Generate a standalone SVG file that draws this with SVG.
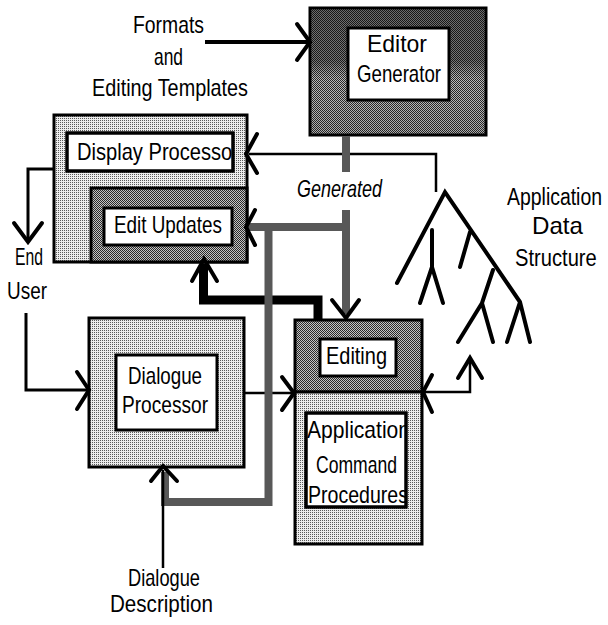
<svg xmlns="http://www.w3.org/2000/svg" width="608" height="625" viewBox="0 0 608 625">
<style>
text{font-family:"Liberation Sans",Arial,sans-serif;font-size:24px;fill:#000}
.box{stroke:#000;stroke-width:3}
.in{fill:#fff;stroke:#000;stroke-width:3}
.ln{fill:none;stroke:#000;stroke-linecap:butt;stroke-linejoin:miter}
.ah{fill:none;stroke:#000;stroke-width:4;stroke-linecap:round;stroke-linejoin:miter}
.band{fill:none;stroke:#585858;stroke-width:8;stroke-linejoin:miter}
.tree{fill:none;stroke:#000;stroke-width:4;stroke-linecap:round;stroke-linejoin:miter}
</style>
<defs>
<pattern id="lt" width="2" height="2" patternUnits="userSpaceOnUse"><rect width="2" height="2" fill="#ededed"/><rect width="1" height="1" fill="#5a5a5a"/></pattern>
<pattern id="dk" width="2" height="2" patternUnits="userSpaceOnUse"><rect width="2" height="2" fill="#c4c4c4"/><rect width="1" height="1" fill="#2a2a2a"/><rect x="1" y="1" width="1" height="1" fill="#2a2a2a"/></pattern>
<linearGradient id="eg" x1="0" y1="0" x2="0" y2="1">
<stop offset="0" stop-color="#000" stop-opacity="0.45"/>
<stop offset="0.42" stop-color="#000" stop-opacity="0.4"/>
<stop offset="0.55" stop-color="#000" stop-opacity="0.05"/>
<stop offset="1" stop-color="#000" stop-opacity="0.12"/>
</linearGradient>
<clipPath id="cDP"><rect x="67" y="133" width="166" height="38"/></clipPath>
<clipPath id="cAP"><rect x="306" y="413" width="100" height="94"/></clipPath>
</defs>

<g id="formats-templates">
<text x="133" y="33" textLength="71" lengthAdjust="spacingAndGlyphs">Formats</text>
<text x="154" y="65" textLength="29" lengthAdjust="spacingAndGlyphs">and</text>
<text x="92" y="96" textLength="156" lengthAdjust="spacingAndGlyphs">Editing Templates</text>
</g>

<g id="editor-generator">
<rect x="310" y="8" width="176" height="127" fill="url(#dk)" class="box"/>
<rect x="311.5" y="9.5" width="173" height="124" fill="url(#eg)"/>
<rect x="348" y="28" width="101" height="72" class="in"/>
<text x="367" y="52" textLength="60" lengthAdjust="spacingAndGlyphs">Editor</text>
<text x="357" y="82" textLength="84" lengthAdjust="spacingAndGlyphs">Generator</text>
</g>

<g id="display-processor">
<rect x="54" y="115" width="193" height="147" fill="url(#lt)" class="box"/>
<rect x="67" y="133" width="166" height="38" class="in"/>
<text x="77" y="160" textLength="162" lengthAdjust="spacingAndGlyphs" clip-path="url(#cDP)">Display Processor</text>
<rect x="67" y="133" width="166" height="38" fill="none" stroke="#000" stroke-width="3"/>
</g>

<g id="edit-updates">
<rect x="91" y="188" width="156" height="74" fill="url(#dk)" class="box"/>
<rect x="104" y="208" width="128" height="37" class="in"/>
<text x="114" y="233" textLength="108" lengthAdjust="spacingAndGlyphs">Edit Updates</text>
</g>

<g id="end-user">
<text x="15" y="265" textLength="28" lengthAdjust="spacingAndGlyphs">End</text>
<text x="7" y="299" textLength="40" lengthAdjust="spacingAndGlyphs">User</text>
</g>

<g id="dialogue-processor">
<rect x="89" y="318" width="155" height="149" fill="url(#lt)" class="box"/>
<rect x="116" y="355" width="101" height="75" class="in"/>
<text x="128" y="384" textLength="74" lengthAdjust="spacingAndGlyphs">Dialogue</text>
<text x="122" y="413" textLength="86" lengthAdjust="spacingAndGlyphs">Processor</text>
</g>

<g id="editing">
<rect x="295" y="320" width="127" height="72" fill="url(#dk)" class="box"/>
<rect x="320" y="339" width="76" height="37" class="in"/>
<text x="326" y="364" textLength="61" lengthAdjust="spacingAndGlyphs">Editing</text>
</g>

<g id="application-command-procedures">
<rect x="295" y="392" width="127" height="152" fill="url(#lt)" class="box"/>
<rect x="306" y="413" width="100" height="94" class="in"/>
<g clip-path="url(#cAP)">
<text x="307" y="438" textLength="103" lengthAdjust="spacingAndGlyphs">Application</text>
<text x="316" y="473" textLength="81" lengthAdjust="spacingAndGlyphs">Command</text>
<text x="308" y="503" textLength="100" lengthAdjust="spacingAndGlyphs">Procedures</text>
</g>
<rect x="306" y="413" width="100" height="94" fill="none" stroke="#000" stroke-width="3"/>
</g>

<g id="dialogue-description">
<text x="128" y="586" textLength="72" lengthAdjust="spacingAndGlyphs">Dialogue</text>
<text x="110" y="612" textLength="103" lengthAdjust="spacingAndGlyphs">Description</text>
</g>

<g id="application-data-structure">
<path class="tree" d="M397,283 L445,192 L520,302 M432,230 L432,267 M432,267 L420,303 M432,267 L443,303 M470,232 L460,267 M493,270 L482,303 M482,303 L458,342 M482,303 L493,342 M520,302 L507,342 M520,302 L530,342"/>
<text transform="translate(507,205) scale(0.81,1)">Application</text>
<text x="532" y="234" textLength="51" lengthAdjust="spacingAndGlyphs">Data</text>
<text transform="translate(515,266) scale(0.84,1)">Structure</text>
</g>

<g id="connectors">
<path class="ln" stroke-width="4" d="M205,42 H308"/>
<path class="ah" d="M297,24 L310,42 L297,60"/>
<path class="ln" stroke-width="2.5" d="M436,192 V154 H249"/>
<path class="ah" d="M257,134 L246,154 L257,173"/>
<path class="ln" stroke-width="3" d="M54,169 H28 V240"/>
<path class="ah" d="M14,223 L28,242 L42,223"/>
<path class="ln" stroke-width="3" d="M26,313 V390 H87"/>
<path class="ah" d="M77,372 L89,390 L77,409"/>
<path class="ln" stroke-width="2.5" d="M244,393 H293"/>
<path class="ah" d="M282,377 L294,393 L282,410"/>
<path class="ln" stroke-width="2.5" d="M424,392 H470 V360"/>
<path class="ah" d="M432,375 L423,392 L432,412"/>
<path class="ah" d="M458,378 L470,358 L482,378"/>
<path class="ln" stroke-width="9" d="M318,320 V300 H203.5 V264"/>
<path class="ah" d="M192,281 L204,259 L217,281"/>
<path class="band" stroke-width="6" d="M346,136 V172"/>
<path class="band" stroke-width="6" d="M346,210 V314"/>
<path class="ah" d="M332,300 L346,318 L359,300"/>
<path class="band" d="M249,227 H349"/>
<path class="ah" d="M255,210 L246,227 L255,245"/>
<path class="band" d="M268.5,227 V502 H165 V472"/>
<path class="ln" stroke-width="2.5" d="M163,568 V470"/>
<path class="ah" d="M151,481 L163,466 L177,481"/>
</g>

<g id="generated-label">
<text x="297" y="197" textLength="85" lengthAdjust="spacingAndGlyphs" font-style="italic">Generated</text>
</g>
</svg>
